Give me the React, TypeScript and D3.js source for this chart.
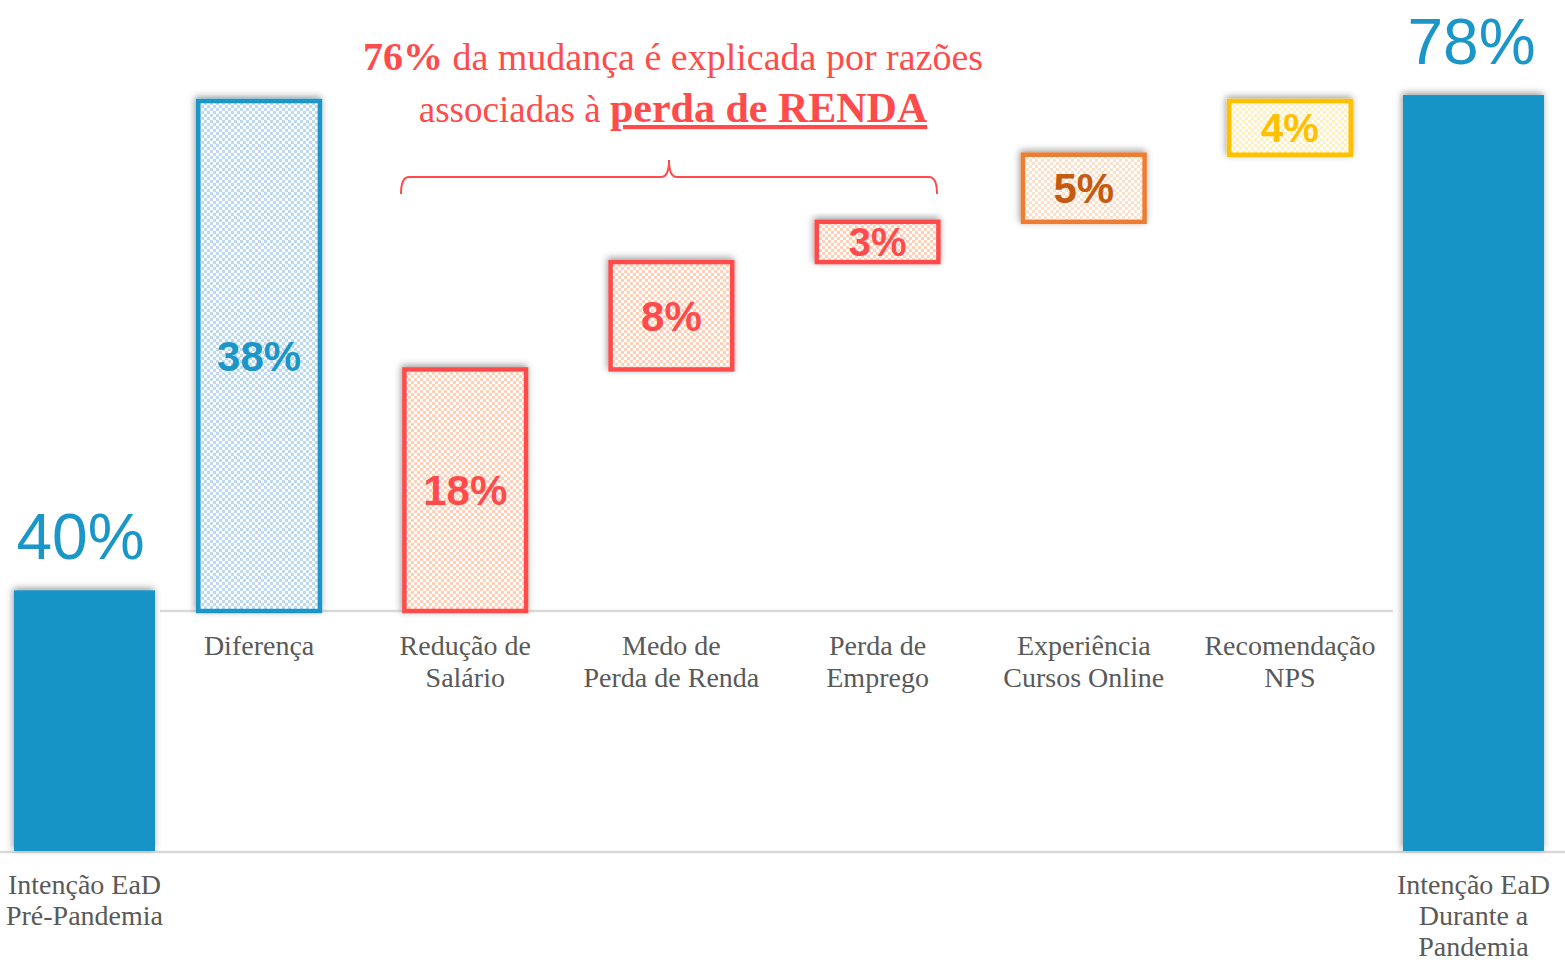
import React, { useEffect } from 'react';
import * as d3 from 'd3';

// outer bars (before / after)
const outerLabels = ['Intenção EaD\nPré-Pandemia', 'Intenção EaD\nDurante a\nPandemia'];
const outerValues = [40, 78];

// waterfall steps
const stepLabels = [
  'Diferença',
  'Redução de\nSalário',
  'Medo de\nPerda de Renda',
  'Perda de\nEmprego',
  'Experiência\nCursos Online',
  'Recomendação\nNPS',
];
const stepValues = [38, 18, 8, 3, 5, 4];
const stepStroke = ['#1a96c8', '#ff4b4b', '#ff4b4b', '#ff4b4b', '#ed7d31', '#ffc000'];
const stepText = ['#1a96c8', '#ff4b4b', '#ff4b4b', '#ff4b4b', '#c55a11', '#ffc000'];
const stepFill = ['#bcd9f0', '#ffd0b8', '#ffd0b8', '#ffd0b8', '#fbe0cc', '#fff0c4'];

const W = 1565;
const H = 963;

const App = () => {
  useEffect(() => {
    document.body.style.margin = '0';
  }, []);

  // outer scale is truncated (starts at 20%)
  const xOuter = d3.scalePoint<string>().domain(outerLabels).range([84.5, 1473.5]);
  const yOuter = d3.scaleLinear().domain([20, 80]).range([851, 69]);
  const outerWidth = 141;

  const xStep = d3.scaleBand<string>().domain(stepLabels).range([156, 1393]).paddingInner(0.41).paddingOuter(0.205);
  const yStep = d3.scaleLinear().domain([0, 40]).range([611, 611 - 40 * 13.42]);

  // first step is the total difference, rest stack on each other
  const rest = stepValues.slice(1);
  const cum = Array.from(d3.cumsum(rest));
  const starts = [0, ...cum.map((c, i) => c - rest[i])];

  const bracePath = (() => {
    const x0 = 401, x1 = 937, xm = 669, y = 177, r = 8;
    const p = d3.path();
    p.moveTo(x0, y + 17);
    p.quadraticCurveTo(x0, y, x0 + r, y);
    p.lineTo(xm - r, y);
    p.quadraticCurveTo(xm, y, xm, y - 17);
    p.quadraticCurveTo(xm, y, xm + r, y);
    p.lineTo(x1 - r, y);
    p.quadraticCurveTo(x1, y, x1, y + 17);
    return p.toString();
  })();

  return (
    <svg width={W} height={H} style={{ display: 'block', background: '#fff' }}>
      <defs>
        <filter id="shadow" x="-20%" y="-20%" width="140%" height="140%">
          <feDropShadow dx="-1" dy="-2" stdDeviation="3.5" floodColor="#000" floodOpacity="0.4" />
        </filter>
        {stepFill.map((c, i) => (
          <pattern key={i} id={`chk${i}`} width="6" height="6" patternUnits="userSpaceOnUse">
            <rect width="6" height="6" fill="#fff" />
            <rect width="3" height="3" fill={c} />
            <rect x="3" y="3" width="3" height="3" fill={c} />
          </pattern>
        ))}
      </defs>

      {/* axes */}
      <line x1={0} x2={W} y1={852} y2={852} stroke="#d9d9d9" strokeWidth={2.5} />
      <line x1={160} x2={1393} y1={611} y2={611} stroke="#d9d9d9" strokeWidth={2.5} />

      {/* outer bars */}
      {outerLabels.map((lab, i) => {
        const cx = xOuter(lab)!;
        const yTop = yOuter(outerValues[i]);
        return (
          <g key={lab}>
            <rect
              x={cx - outerWidth / 2}
              y={yTop}
              width={outerWidth}
              height={yOuter(20) - yTop}
              fill="#1794c6"
              filter="url(#shadow)"
            />
            <text
              x={i === 0 ? cx - 4 : cx - 2}
              y={yTop - 31}
              textAnchor="middle"
              fontFamily="'Liberation Sans', Arial, sans-serif"
              fontSize={64}
              fill="#1a96c8"
            >
              {outerValues[i]}%
            </text>
            <text
              textAnchor="middle"
              fontFamily="'Liberation Serif', 'Times New Roman', serif"
              fontSize={28}
              fill="#595959"
            >
              {lab.split('\n').map((ln, j) => (
                <tspan key={j} x={cx} y={894 + j * 31}>
                  {ln}
                </tspan>
              ))}
            </text>
          </g>
        );
      })}

      {/* waterfall steps */}
      {stepLabels.map((lab, i) => {
        const x = xStep(lab)!;
        const bw = xStep.bandwidth();
        const y0 = yStep(starts[i]);
        const y1 = yStep(starts[i] + stepValues[i]);
        const fs = stepValues[i] < 5 ? 40 : 42;
        return (
          <g key={lab}>
            <rect
              x={x}
              y={y1}
              width={bw}
              height={y0 - y1}
              fill={`url(#chk${i})`}
              stroke={stepStroke[i]}
              strokeWidth={4.5}
              filter="url(#shadow)"
            />
            <text
              x={x + bw / 2}
              y={(y0 + y1) / 2}
              dy="0.36em"
              textAnchor="middle"
              fontFamily="'Liberation Sans', Arial, sans-serif"
              fontWeight="bold"
              fontSize={fs}
              fill={stepText[i]}
            >
              {stepValues[i]}%
            </text>
            <text
              textAnchor="middle"
              fontFamily="'Liberation Serif', 'Times New Roman', serif"
              fontSize={28}
              fill="#595959"
            >
              {lab.split('\n').map((ln, j) => (
                <tspan key={j} x={x + bw / 2} y={655 + j * 32}>
                  {ln}
                </tspan>
              ))}
            </text>
          </g>
        );
      })}

      {/* annotation */}
      <g fontFamily="'Liberation Serif', 'Times New Roman', serif" fill="#ff4b4b" textAnchor="middle">
        <text x={673} y={70} fontSize={38}>
          <tspan fontWeight="bold" fontSize={40}>76%</tspan> da mudança é explicada por razões
        </text>
        <text x={673} y={122} fontSize={37}>
          associadas à{' '}
          <tspan fontWeight="bold" fontSize={42} textDecoration="underline">
            perda de RENDA
          </tspan>
        </text>
      </g>
      <path d={bracePath} fill="none" stroke="#ff4b4b" strokeWidth={2} />
    </svg>
  );
};

export default App;
